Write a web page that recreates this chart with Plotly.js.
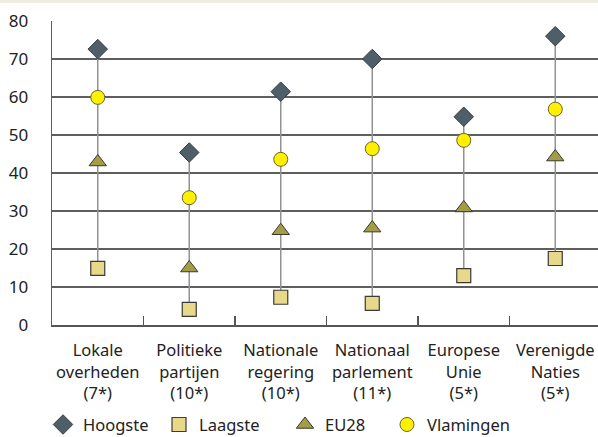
<!DOCTYPE html>
<html>
<head>
<meta charset="utf-8">
<script src="https://cdn.plot.ly/plotly-3.0.1.min.js"></script>
<style>
html,body{margin:0;padding:0;background:#fff;}
body{background:linear-gradient(#efece0 0,#efece0 3px,#ffffff 3px);width:598px;height:437px;overflow:hidden;}
#chart{position:absolute;left:0;top:0;width:598px;height:437px;}
</style>
</head>
<body>
<div id="chart"></div>
<script>
var categories = [
  "Lokale<br>overheden<br>(7*)",
  "Politieke<br>partijen<br>(10*)",
  "Nationale<br>regering<br>(10*)",
  "Nationaal<br>parlement<br>(11*)",
  "Europese<br>Unie<br>(5*)",
  "Verenigde<br>Naties<br>(5*)"
];
var hoogste   = [72.6, 45.4, 61.4, 70.0, 54.8, 76.0];
var laagste   = [14.9, 4.1, 7.3, 5.7, 13.0, 17.5];
var eu28      = [42.9, 15.0, 24.8, 25.5, 30.8, 44.2];
var vlamingen = [59.9, 33.5, 43.6, 46.4, 48.6, 56.8];
var yTicks = [0, 10, 20, 30, 40, 50, 60, 70, 80];

var FONT = "Noto Sans, Open Sans, sans-serif";
var TXT = "#222222";

// high-low connector lines built from the data
var lx = [], ly = [];
for (var i = 0; i < categories.length; i++) {
  lx.push(categories[i], categories[i], null);
  ly.push(laagste[i], hoogste[i], null);
}

var traces = [
  {x: lx, y: ly, type: "scatter", mode: "lines", showlegend: false, hoverinfo: "skip",
   line: {color: "#929292", width: 1.5}},
  {x: categories, y: hoogste, name: "Hoogste", type: "scatter", mode: "markers", legend: "legend",
   marker: {symbol: "diamond", size: 15, color: "#4e5f69", line: {color: "#3a3f42", width: 1}}},
  {x: categories, y: laagste, name: "Laagste", type: "scatter", mode: "markers", legend: "legend2",
   marker: {symbol: "square", size: 14, color: "#e8d98a", line: {color: "#3a3a3a", width: 1.2}}},
  {x: categories, y: eu28, name: "EU28", type: "scatter", mode: "markers", legend: "legend3",
   marker: {symbol: "triangle-up", size: 15, color: "#a39c48", line: {color: "#3a3a2a", width: 1}}},
  {x: categories, y: vlamingen, name: "Vlamingen", type: "scatter", mode: "markers", legend: "legend4",
   marker: {symbol: "circle", size: 14, color: "#fff000", line: {color: "#6a6230", width: 1}}}
];

function legendAt(px) {
  return {
    orientation: "h", xref: "container", yref: "container",
    x: px / 598, xanchor: "left", y: 0.028, yanchor: "middle",
    bgcolor: "rgba(0,0,0,0)",
    font: {family: FONT, size: 16.5, color: TXT},
    itemclick: false, itemdoubleclick: false
  };
}

var layout = {
  width: 598, height: 437,
  margin: {l: 52, r: 0, t: 21, b: 112, pad: 0},
  paper_bgcolor: "rgba(0,0,0,0)",
  plot_bgcolor: "rgba(0,0,0,0)",
  font: {family: FONT, size: 16, color: TXT},
  showlegend: true,
  legend: legendAt(43),
  legend2: legendAt(159),
  legend3: legendAt(285),
  legend4: legendAt(387),
  xaxis: {
    type: "category",
    range: [-0.5, 5.467],
    showgrid: false, zeroline: false,
    showline: true, linecolor: "#555555", linewidth: 1.5,
    ticks: "inside", tickson: "boundaries", ticklen: 9, tickwidth: 1.2, tickcolor: "#555555",
    ticklabelstandoff: 10, tickangle: 0,
    tickfont: {family: FONT, size: 16.5, color: TXT},
    fixedrange: true
  },
  yaxis: {
    range: [0, 80],
    tickvals: yTicks, ticktext: yTicks.map(String),
    showgrid: true, gridcolor: "#5e5e5e", gridwidth: 1.3,
    zeroline: false,
    showline: true, linecolor: "#5e5e5e", linewidth: 1.3,
    ticks: "", ticklabelstandoff: 19,
    tickfont: {family: FONT, size: 17, color: TXT},
    fixedrange: true
  }
};

Plotly.newPlot("chart", traces, layout, {staticPlot: true, displayModeBar: false});
</script>
</body>
</html>
